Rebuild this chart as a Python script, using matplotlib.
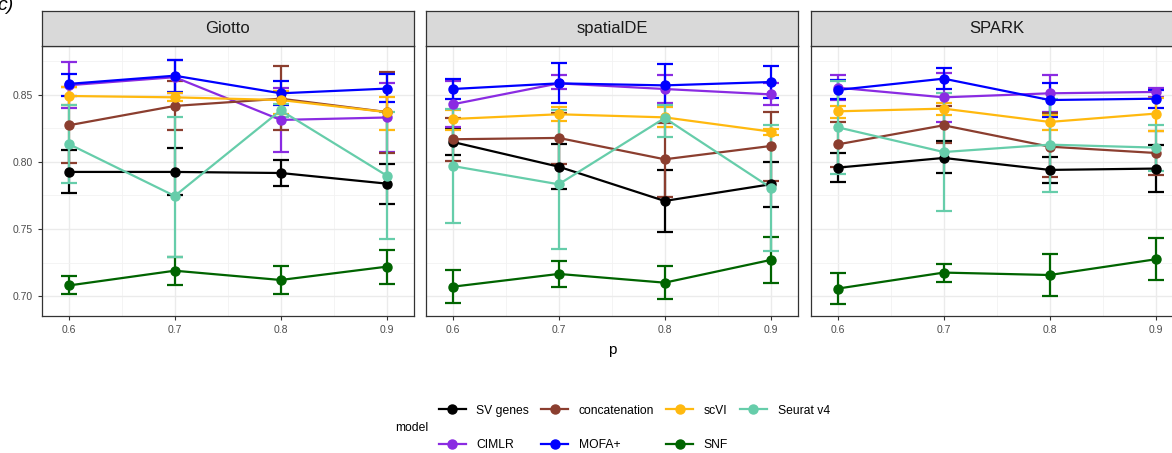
import matplotlib
matplotlib.use("Agg")
import matplotlib.pyplot as plt
from matplotlib.lines import Line2D
from matplotlib.ticker import MultipleLocator

plt.rcParams['font.family'] = ['Liberation Sans', 'DejaVu Sans']

# ---------------- data ----------------
p_values = [0.6, 0.7, 0.8, 0.9]
models = ["SV genes", "CIMLR", "concatenation", "MOFA+", "scVI", "SNF", "Seurat v4"]
model_colors = ["#000000", "#8A2BE2", "#8B3E2F", "#0000FF", "#FFB90F", "#006400", "#66CDAA"]
panel_titles = ["Giotto", "spatialDE", "SPARK"]
y_ticks = [0.70, 0.75, 0.80, 0.85]
x_ticks = [0.6, 0.7, 0.8, 0.9]

giotto_mean = {
    "SV genes": [0.7925, 0.7925, 0.7917, 0.7838],
    "CIMLR": [0.857, 0.863, 0.8312, 0.833],
    "concatenation": [0.8272, 0.8416, 0.847, 0.8371],
    "MOFA+": [0.858, 0.8641, 0.851, 0.8545],
    "scVI": [0.849, 0.848, 0.846, 0.837],
    "SNF": [0.708, 0.719, 0.7121, 0.722],
    "Seurat v4": [0.8133, 0.7746, 0.8383, 0.7898],
}
giotto_lo = {
    "SV genes": [0.7766, 0.7754, 0.782, 0.7687],
    "CIMLR": [0.840, 0.851, 0.8076, 0.807],
    "concatenation": [0.799, 0.8235, 0.8235, 0.8068],
    "MOFA+": [0.849, 0.852, 0.842, 0.8443],
    "scVI": [0.842, 0.845, 0.8353, 0.8237],
    "SNF": [0.7016, 0.708, 0.7015, 0.7094],
    "Seurat v4": [0.784, 0.7292, 0.833, 0.7426],
}
giotto_hi = {
    "SV genes": [0.809, 0.810, 0.8012, 0.7987],
    "CIMLR": [0.874, 0.876, 0.855, 0.8587],
    "concatenation": [0.856, 0.860, 0.8713, 0.8667],
    "MOFA+": [0.865, 0.876, 0.860, 0.865],
    "scVI": [0.856, 0.851, 0.8526, 0.848],
    "SNF": [0.715, 0.7295, 0.7228, 0.7347],
    "Seurat v4": [0.842, 0.833, 0.843, 0.837],
}

spatialde_mean = {
    "SV genes": [0.8148, 0.7964, 0.7709, 0.7833],
    "CIMLR": [0.8428, 0.8584, 0.8542, 0.8502],
    "concatenation": [0.8168, 0.8178, 0.8019, 0.8118],
    "MOFA+": [0.8542, 0.8584, 0.8569, 0.8594],
    "scVI": [0.8319, 0.8354, 0.8331, 0.8225],
    "SNF": [0.7071, 0.7166, 0.7101, 0.727],
    "Seurat v4": [0.7969, 0.7833, 0.8326, 0.7808],
}
spatialde_lo = {
    "SV genes": [0.8049, 0.7798, 0.7476, 0.7664],
    "CIMLR": [0.8262, 0.854, 0.8436, 0.8423],
    "concatenation": [0.8006, 0.7984, 0.7741, 0.7855],
    "MOFA+": [0.847, 0.8436, 0.8416, 0.8473],
    "scVI": [0.824, 0.8304, 0.8257, 0.82],
    "SNF": [0.6947, 0.7066, 0.6977, 0.7096],
    "Seurat v4": [0.7543, 0.7349, 0.8183, 0.7334],
}
spatialde_hi = {
    "SV genes": [0.8247, 0.8133, 0.794, 0.8001],
    "CIMLR": [0.8604, 0.8646, 0.8649, 0.8584],
    "concatenation": [0.8329, 0.8366, 0.8292, 0.8374],
    "MOFA+": [0.8614, 0.8733, 0.8728, 0.8716],
    "scVI": [0.8386, 0.8406, 0.8406, 0.8242],
    "SNF": [0.7195, 0.7265, 0.7228, 0.7438],
    "Seurat v4": [0.8393, 0.8386, 0.8421, 0.8272],
}

spark_mean = {
    "SV genes": [0.7957, 0.8029, 0.794, 0.795],
    "CIMLR": [0.8552, 0.848, 0.851, 0.852],
    "concatenation": [0.813, 0.8272, 0.8113, 0.8066],
    "MOFA+": [0.8535, 0.8619, 0.846, 0.847],
    "scVI": [0.8376, 0.8396, 0.8297, 0.8359],
    "SNF": [0.7057, 0.7176, 0.7158, 0.7275],
    "Seurat v4": [0.8257, 0.8073, 0.8128, 0.8106],
}
spark_lo = {
    "SV genes": [0.7848, 0.7915, 0.784, 0.7776],
    "CIMLR": [0.846, 0.83, 0.8374, 0.8485],
    "concatenation": [0.7959, 0.8143, 0.7885, 0.790],
    "MOFA+": [0.8465, 0.854, 0.8331, 0.8401],
    "scVI": [0.8324, 0.8349, 0.8237, 0.8232],
    "SNF": [0.6942, 0.7106, 0.7004, 0.7121],
    "Seurat v4": [0.791, 0.7632, 0.7778, 0.7935],
}
spark_hi = {
    "SV genes": [0.8068, 0.8158, 0.8039, 0.8123],
    "CIMLR": [0.8646, 0.8664, 0.8644, 0.8547],
    "concatenation": [0.830, 0.8416, 0.8361, 0.8232],
    "MOFA+": [0.8609, 0.8698, 0.8584, 0.8535],
    "scVI": [0.8416, 0.844, 0.8349, 0.8473],
    "SNF": [0.7171, 0.724, 0.7314, 0.7431],
    "Seurat v4": [0.8602, 0.851, 0.847, 0.8274],
}

panel_data = [
    (giotto_mean, giotto_lo, giotto_hi),
    (spatialde_mean, spatialde_lo, spatialde_hi),
    (spark_mean, spark_lo, spark_hi),
]

# ---------------- layout ----------------
W, H = 1172, 453
fig = plt.figure(figsize=(W / 100, H / 100), dpi=100)

panel_left_px = [42, 426, 811]
panel_w_px = 372
panel_top_px = 46
panel_bot_px = 316
strip_top_px = 11

text_gray = "#4D4D4D"
border = "#333333"

def fx(px):
    return px / W

def fy(py):
    return 1 - py / H

for i, title in enumerate(panel_titles):
    mean_d, lo_d, hi_d = panel_data[i]
    left = fx(panel_left_px[i])
    ax = fig.add_axes([left, fy(panel_bot_px), panel_w_px / W,
                       (panel_bot_px - panel_top_px) / H])
    ax.set_xlim(0.5748, 0.9258)
    ax.set_ylim(0.6853, 0.8862)
    ax.set_xticks(x_ticks)
    ax.set_xticklabels([f"{v:.1f}" for v in x_ticks])
    ax.set_yticks(y_ticks)
    ax.set_yticklabels([f"{v:.2f}" for v in y_ticks])
    ax.xaxis.set_minor_locator(MultipleLocator(0.05))
    ax.yaxis.set_minor_locator(MultipleLocator(0.025))
    ax.grid(which="major", color="#EBEBEB", linewidth=1.0, zorder=0)
    ax.grid(which="minor", color="#F2F2F2", linewidth=0.6, zorder=0)
    ax.set_axisbelow(True)
    ax.tick_params(which="minor", length=0)
    ax.tick_params(which="major", length=3, width=0.8, color=border,
                   labelsize=7.5, labelcolor=text_gray, pad=3.5)
    if i > 0:
        ax.tick_params(axis="y", which="major", length=0, labelleft=False)
    for s in ax.spines.values():
        s.set_color(border)
        s.set_linewidth(0.9)

    for m, c in zip(models, model_colors):
        mu = mean_d[m]
        lo = lo_d[m]
        hi = hi_d[m]
        yerr = [[a - b for a, b in zip(mu, lo)], [b - a for a, b in zip(mu, hi)]]
        ax.errorbar(p_values, mu, yerr=yerr, fmt="none", ecolor=c,
                    elinewidth=1.6, capsize=5.5, capthick=1.6, zorder=2)
    for m, c in zip(models, model_colors):
        ax.plot(p_values, mean_d[m], color=c, linewidth=1.6, zorder=3)
    for m, c in zip(models, model_colors):
        ax.plot(p_values, mean_d[m], linestyle="none", marker="o",
                markersize=6.5, color=c, zorder=4)

    # strip
    sax = fig.add_axes([left, fy(panel_top_px), panel_w_px / W,
                        (panel_top_px - strip_top_px) / H])
    sax.set_xticks([])
    sax.set_yticks([])
    sax.set_facecolor("#D9D9D9")
    for s in sax.spines.values():
        s.set_color(border)
        s.set_linewidth(0.9)
    sax.text(0.5, 0.5, title, ha="center", va="center", fontsize=12,
             color="#1A1A1A", transform=sax.transAxes)

# axis label
fig.text(fx(612), fy(350), "p", ha="center", va="center", fontsize=11)

# panel tag (partially cropped, as in the reference)
fig.text(fx(-3), fy(5), "c)", ha="left", va="center", fontsize=14,
         style="italic")

# legend
handles = [Line2D([0], [0], color=c, linewidth=1.6, marker="o", markersize=6.5)
           for c in model_colors]
leg = fig.legend(handles, models, ncol=4, loc="center left",
                 bbox_to_anchor=(fx(433), fy(428)), frameon=False,
                 fontsize=8.7, handlelength=2.2, handletextpad=0.9,
                 columnspacing=1.0, labelspacing=1.9, borderpad=0)
fig.text(fx(395), fy(428), "model", ha="left", va="center", fontsize=8.7)

fig.savefig("out.png", dpi=100)
